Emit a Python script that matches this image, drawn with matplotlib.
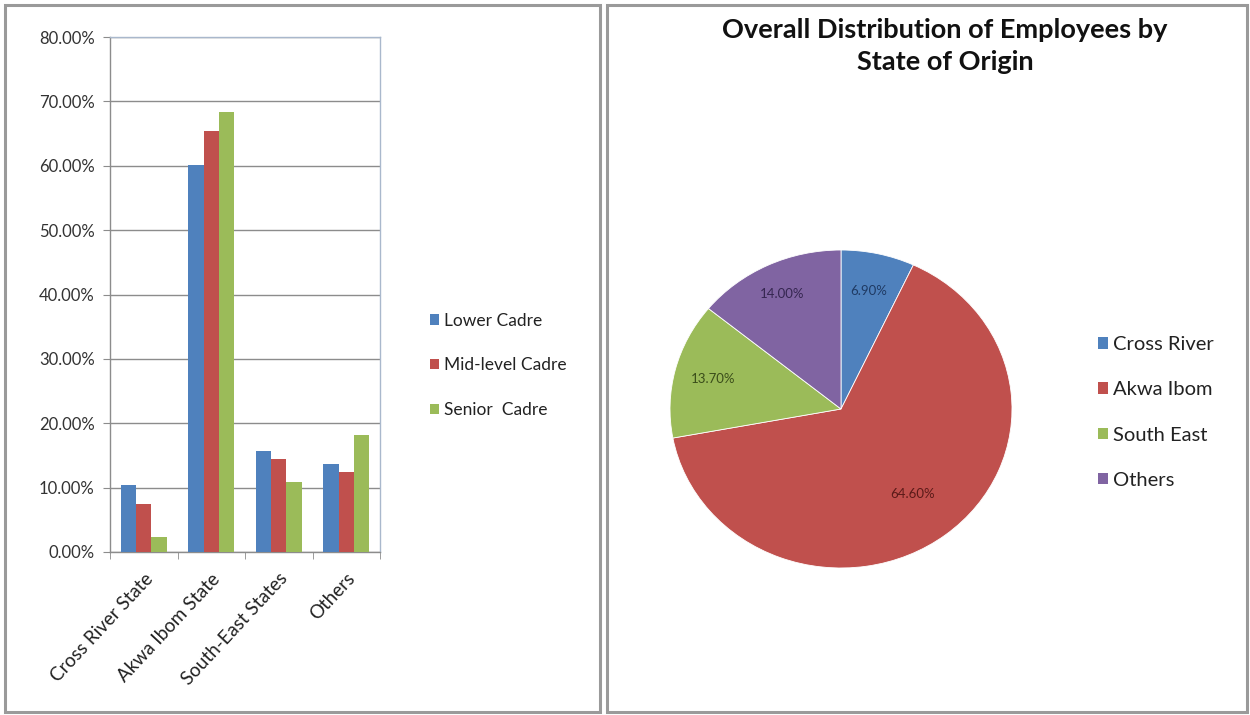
import matplotlib
matplotlib.use("Agg")
import matplotlib.pyplot as plt
from matplotlib.patches import Rectangle, Patch
from matplotlib.ticker import FuncFormatter, FixedLocator
import numpy as np

plt.rcParams['font.family'] = ['Lato', 'DejaVu Sans']

# Bar chart data (share of employees per cadre, %)
categories = ["Cross River State", "Akwa Ibom State", "South-East States", "Others"]
cadres = ["Lower Cadre", "Mid-level Cadre", "Senior  Cadre"]
lower_cadre = [10.4, 60.1, 15.7, 13.7]
mid_cadre = [7.4, 65.4, 14.4, 12.4]
senior_cadre = [2.3, 68.3, 10.9, 18.2]

# Pie chart data (overall distribution, %)
pie_labels = ["Cross River", "Akwa Ibom", "South East", "Others"]
pie_values = [6.90, 64.60, 13.70, 14.00]

blue, red, green, purple = "#4F81BD", "#C0504D", "#9BBB59", "#8064A2"
dark = {"Cross River": "#1F3A63", "Akwa Ibom": "#5A1A18",
        "South East": "#3A4D1A", "Others": "#352650"}

fig = plt.figure(figsize=(12.5, 7.15), dpi=100)
W, H = 1250, 715

def fx(px):
    return px / W

def fy(py):
    return 1 - py / H

# Panel frames
for x0, x1 in [(5, 600), (607, 1247)]:
    fig.patches.append(Rectangle((fx(x0), fy(712)), fx(x1 - x0), (712 - 5) / H,
                                 transform=fig.transFigure, fill=False,
                                 edgecolor="#9a9a9a", linewidth=2.2))

# ---- Clustered bar chart ----
ax = fig.add_axes([fx(110), fy(552), fx(380 - 110), (552 - 37) / H])
x = np.arange(len(categories))
bw = 0.225
series = [(lower_cadre, blue), (mid_cadre, red), (senior_cadre, green)]
for i, (vals, col) in enumerate(series):
    ax.bar(x + (i - 1) * bw, vals, width=bw, color=col, label=cadres[i], zorder=3)

ax.set_xlim(-0.5, len(categories) - 0.5)
ax.set_ylim(0, 80)
ax.set_yticks(np.arange(0, 81, 10))
ax.yaxis.set_major_formatter(FuncFormatter(lambda v, p: f"{v:.2f}%"))
ax.grid(axis="y", color="#8c8c8c", linewidth=1.0, zorder=0)
ax.set_xticks(x)
ax.set_xticklabels(categories, rotation=47, ha="right", rotation_mode="anchor",
                   fontsize=13.5, color="#222222")
ax.tick_params(axis="x", length=0, pad=13)
ax.xaxis.set_minor_locator(FixedLocator(np.arange(-0.5, len(categories), 1.0)))
ax.tick_params(axis="x", which="minor", length=5, color="#8c8c8c")
ax.tick_params(axis="y", length=5, color="#8c8c8c", labelsize=12, labelcolor="#333333", pad=6)
for s in ax.spines.values():
    s.set_color("#a9b8cc")
    s.set_linewidth(1.0)
ax.spines["left"].set_color("#8c8c8c")
ax.spines["bottom"].set_color("#8c8c8c")

handles = [Patch(facecolor=c, label=l) for (v, c), l in zip(series, cadres)]
fig.legend(handles=handles, loc="upper left", bbox_to_anchor=(fx(414), fy(297)),
           frameon=False, fontsize=12.5, handlelength=0.55, handleheight=0.55,
           handletextpad=0.25, labelspacing=1.65, labelcolor="#222222")

# ---- Pie chart ----
pax = fig.add_axes([fx(670), fy(568), fx(342), 318 / H])
wedges, _ = pax.pie(pie_values, colors=[blue, red, green, purple], startangle=90,
                    counterclock=False, radius=1.0,
                    wedgeprops=dict(edgecolor="white", linewidth=0.6))
label_r = [0.76, 0.68, 0.77, 0.8]
for w, val, name, r in zip(wedges, pie_values, pie_labels, label_r):
    ang = np.deg2rad((w.theta1 + w.theta2) / 2)
    pax.text(r * np.cos(ang), r * np.sin(ang), f"{val:.2f}%", ha="center",
             va="center", fontsize=9.5, color=dark[name])
pax.set_xlim(-1, 1)
pax.set_ylim(-1, 1)
pax.set_aspect("auto")

fig.text(fx(945), fy(46), "Overall Distribution of Employees by\nState of Origin",
         ha="center", va="center", fontsize=19.5, fontweight="bold",
         color="#111111", linespacing=1.35)

pie_handles = [Patch(facecolor=c, label=l) for c, l in zip([blue, red, green, purple], pie_labels)]
fig.legend(handles=pie_handles, loc="upper left", bbox_to_anchor=(fx(1080), fy(318)),
           frameon=False, fontsize=14.5, handlelength=0.5, handleheight=0.5,
           handletextpad=0.25, labelspacing=1.4, labelcolor="#222222")

fig.savefig("out.png", dpi=100, facecolor="white")
